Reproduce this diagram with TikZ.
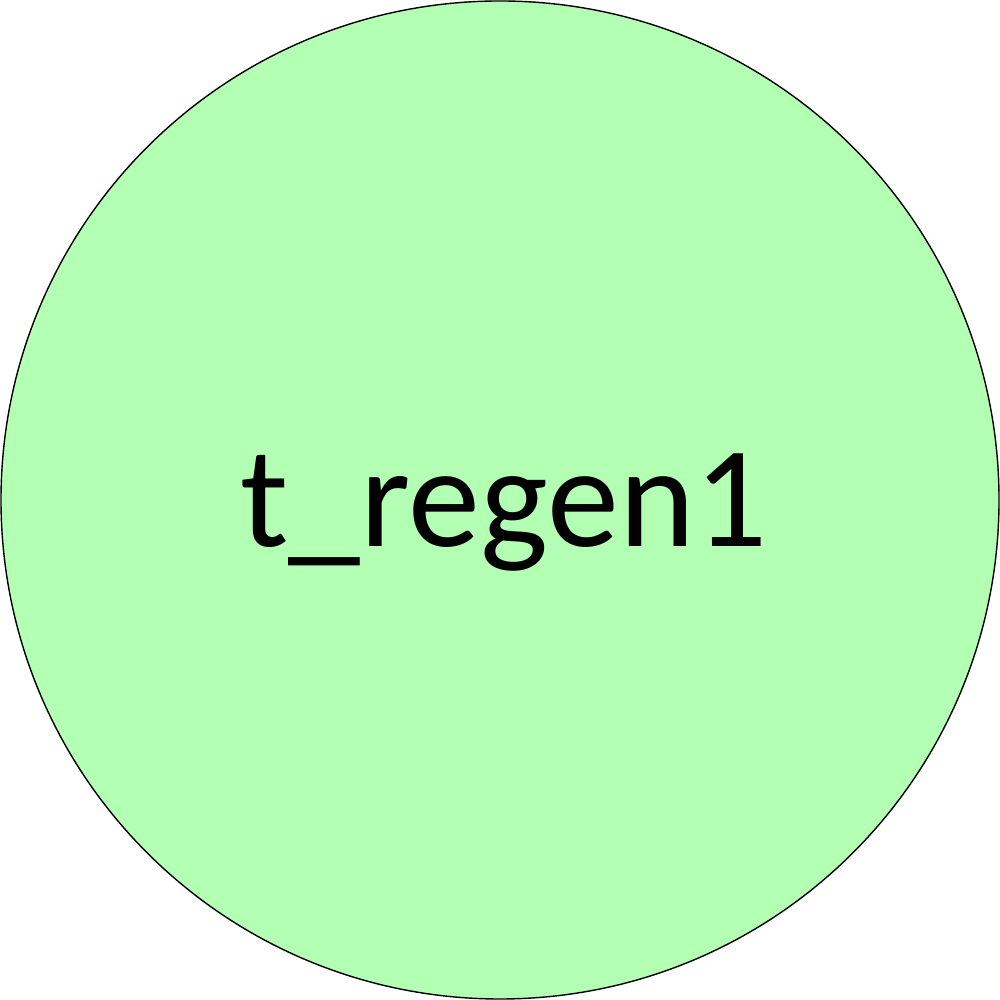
\documentclass[tikz,border=0pt]{standalone}
\usepackage{fontspec}
\setmainfont{Carlito}
\usepackage{tikz}
\usetikzlibrary{positioning}

\definecolor{placegreen}{HTML}{B3FFB3}

\begin{document}
\begin{tikzpicture}
    % Bounding box
    \useasboundingbox (0,0) rectangle (10,10);

    % Place
    \node[circle, draw=black, line width=0.4pt, fill=placegreen,
          minimum size=9.98cm, inner sep=0pt] (regen) at (5,5) {};

    % Label
    \node[anchor=base, inner sep=0pt, font=\fontsize{41}{49}\selectfont]
        (regenlabel) at (5.04,4.53) {t\_regen1};
\end{tikzpicture}
\end{document}
